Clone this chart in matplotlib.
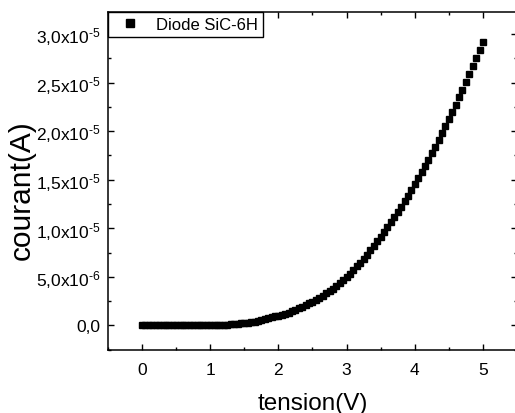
import matplotlib
matplotlib.use("Agg")
import matplotlib.pyplot as plt
from matplotlib.ticker import FixedLocator, FixedFormatter, MultipleLocator

plt.rcParams['font.family'] = ['Liberation Sans', 'DejaVu Sans']
plt.rcParams['mathtext.fontset'] = 'custom'
plt.rcParams['mathtext.rm'] = 'Liberation Sans'
plt.rcParams['mathtext.it'] = 'Liberation Sans'
plt.rcParams['mathtext.default'] = 'regular'

# Data: voltage (V) and current (units of 1e-5 A)
tension = [round(i * 0.05, 2) for i in range(101)]
courant_e5 = [
    0.000, 0.000, 0.000, 0.000, 0.000, 0.000, 0.000, 0.000, 0.000, 0.000,
    0.000, 0.000, 0.000, 0.000, 0.000, 0.000, 0.000, 0.000, 0.000, 0.000,
    0.000, 0.002, 0.003, 0.005, 0.007, 0.009, 0.011, 0.014, 0.017, 0.020,
    0.024, 0.029, 0.034, 0.040, 0.047, 0.055, 0.064, 0.073, 0.083, 0.094,
    0.100, 0.110, 0.121, 0.133, 0.146, 0.160, 0.175, 0.191, 0.208, 0.226,
    0.245, 0.265, 0.286, 0.308, 0.331, 0.355, 0.380, 0.407, 0.435, 0.465,
    0.497, 0.531, 0.568, 0.607, 0.647, 0.688, 0.730, 0.774, 0.818, 0.865,
    0.912, 0.961, 1.010, 1.062, 1.114, 1.168, 1.223, 1.279, 1.336, 1.395,
    1.455, 1.516, 1.579, 1.643, 1.708, 1.774, 1.841, 1.910, 1.980, 2.052,
    2.124, 2.198, 2.273, 2.350, 2.427, 2.506, 2.587, 2.668, 2.751, 2.835,
    2.920,
]
courant = [c * 1e-5 for c in courant_e5]

ytick_vals = [0.0, 0.5e-5, 1.0e-5, 1.5e-5, 2.0e-5, 2.5e-5, 3.0e-5]
ytick_labels = ["0,0", "5,0x10$^{\\text{-6}}$", "1,0x10$^{\\text{-5}}$",
                "1,5x10$^{\\text{-5}}$", "2,0x10$^{\\text{-5}}$",
                "2,5x10$^{\\text{-5}}$", "3,0x10$^{\\text{-5}}$"]
xtick_vals = [0, 1, 2, 3, 4, 5]
xtick_labels = ["0", "1", "2", "3", "4", "5"]

W, H = 515, 414
fig = plt.figure(figsize=(W / 100, H / 100), dpi=100)
left, right, top, bottom = 108, 517, 12.7, 350.7
ax = fig.add_axes([left / W, 1 - bottom / H, (right - left) / W, (bottom - top) / H])

ax.plot(tension, courant, linestyle='none', marker='s', markersize=4.8,
        color='black', label='Diode SiC-6H')

ax.set_xlim(-0.5, 5.5)
ax.set_ylim(-0.25e-5, 3.23e-5)

ax.xaxis.set_major_locator(FixedLocator(xtick_vals))
ax.xaxis.set_major_formatter(FixedFormatter(xtick_labels))
ax.xaxis.set_minor_locator(MultipleLocator(0.5))
ax.yaxis.set_major_locator(FixedLocator(ytick_vals))
ax.yaxis.set_major_formatter(FixedFormatter(ytick_labels))
ax.yaxis.set_minor_locator(MultipleLocator(0.25e-5))

ax.tick_params(which='both', direction='in', top=True, right=True,
               width=1.0, labelsize=12.5, colors='black')
ax.tick_params(which='major', length=4.5)
ax.tick_params(which='minor', length=2.5)
ax.tick_params(axis='y', which='major', pad=5.5)
ax.tick_params(axis='x', which='major', pad=9)

for s in ax.spines.values():
    s.set_linewidth(1.1)

ax.set_xlabel('tension(V)', fontsize=17.5, labelpad=11)
ax.set_ylabel('courant(A)', fontsize=21.5)
ax.yaxis.set_label_coords((36 - left) / (right - left), (bottom - 190) / (bottom - top))

leg = ax.legend(loc='upper left', bbox_to_anchor=(0, 1), borderaxespad=0,
                fancybox=False, edgecolor='black', fontsize=12,
                handlelength=2.0, handletextpad=0.6, borderpad=0.3,
                markerscale=1.2, framealpha=1)
leg.get_frame().set_linewidth(1.0)

fig.savefig('out.png', dpi=100)
